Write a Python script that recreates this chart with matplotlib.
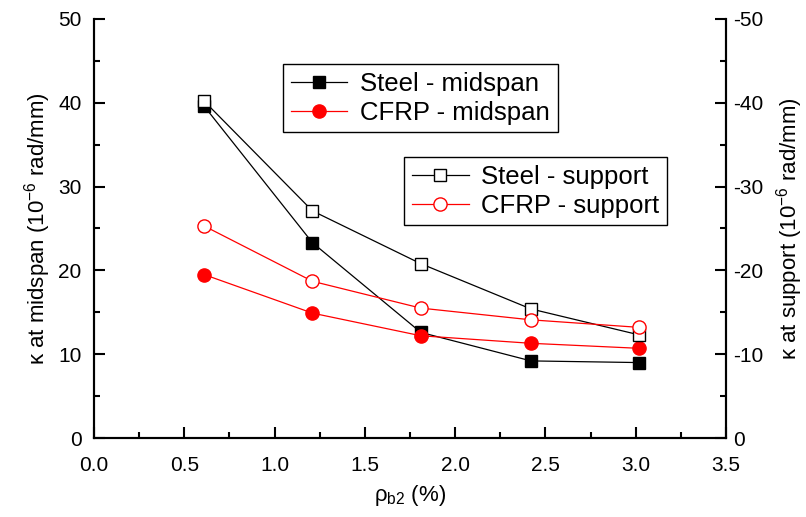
import matplotlib
matplotlib.use("Agg")
import matplotlib.pyplot as plt
from matplotlib.ticker import MultipleLocator

plt.rcParams["font.family"] = ["Liberation Sans", "DejaVu Sans"]
plt.rcParams["mathtext.fontset"] = "custom"
plt.rcParams["mathtext.rm"] = "Liberation Sans"
plt.rcParams["mathtext.it"] = "Liberation Sans:italic"
plt.rcParams["axes.unicode_minus"] = False

rho_b2 = [0.61, 1.21, 1.81, 2.42, 3.02]
steel_mid = [39.6, 23.3, 12.6, 9.2, 9.0]
cfrp_mid = [19.5, 14.9, 12.2, 11.3, 10.7]
steel_sup = [-40.2, -27.1, -20.8, -15.4, -12.3]
cfrp_sup = [-25.3, -18.7, -15.5, -14.1, -13.2]

fig = plt.figure(figsize=(8.06, 5.17), dpi=100)
ax = fig.add_axes([94 / 806, 79 / 517, 632 / 806, 419 / 517])
ax2 = ax.twinx()

l1, = ax.plot(rho_b2, steel_mid, color="black", lw=0.9, marker="s", ms=8.5,
              mfc="black", mec="black", label="Steel - midspan")
l2, = ax.plot(rho_b2, cfrp_mid, color="red", lw=0.9, marker="o", ms=9.5,
              mfc="red", mec="red", label="CFRP - midspan")
l3, = ax2.plot(rho_b2, steel_sup, color="black", lw=0.9, marker="s", ms=8.5,
               mfc="white", mec="black", label="Steel - support")
l4, = ax2.plot(rho_b2, cfrp_sup, color="red", lw=0.9, marker="o", ms=9.5,
               mfc="white", mec="red", label="CFRP - support")

ax.set_xlim(0, 3.5)
ax.set_ylim(0, 50)
ax2.set_ylim(0, -50)

ax.xaxis.set_major_locator(MultipleLocator(0.5))
ax.xaxis.set_minor_locator(MultipleLocator(0.25))
ax.yaxis.set_major_locator(MultipleLocator(10))
ax.yaxis.set_minor_locator(MultipleLocator(5))
ax2.yaxis.set_major_locator(MultipleLocator(10))
ax2.yaxis.set_minor_locator(MultipleLocator(5))
ax.xaxis.set_major_formatter(plt.FuncFormatter(lambda v, p: f"{v:.1f}"))

for a in (ax, ax2):
    a.spines["top"].set_visible(False)
    for s in ("left", "right", "bottom"):
        a.spines[s].set_linewidth(1.5)
    a.tick_params(which="major", direction="in", length=8, width=1.5, labelsize=15, pad=5)
    a.tick_params(which="minor", direction="in", length=4, width=1.5)
ax.tick_params(axis="y", which="both", right=False, pad=9)
ax.tick_params(axis="x", which="both", top=False, pad=13)

ax.set_xlabel("ρ$_{\\rm b2}$ (%)", fontsize=16, labelpad=6)
ax.set_ylabel("κ at midspan (10$^{-6}$ rad/mm)", fontsize=16, labelpad=4)
ax2.set_ylabel("κ at support (10$^{-6}$ rad/mm)", fontsize=16, labelpad=8)

leg_kw = dict(fontsize=18.5, frameon=True, fancybox=False, framealpha=1,
              edgecolor="black", handlelength=2.2, borderpad=0.3,
              labelspacing=0.2, handletextpad=0.5, borderaxespad=0)
leg1 = ax2.legend(handles=[l1, l2], loc="upper left",
                  bbox_to_anchor=(0.299, 0.893), **leg_kw)
leg1.get_frame().set_linewidth(1.0)
ax2.add_artist(leg1)
leg2 = ax2.legend(handles=[l3, l4], loc="upper left",
                  bbox_to_anchor=(0.491, 0.671), **leg_kw)
leg2.get_frame().set_linewidth(1.0)

fig.savefig("out.png", dpi=100)
